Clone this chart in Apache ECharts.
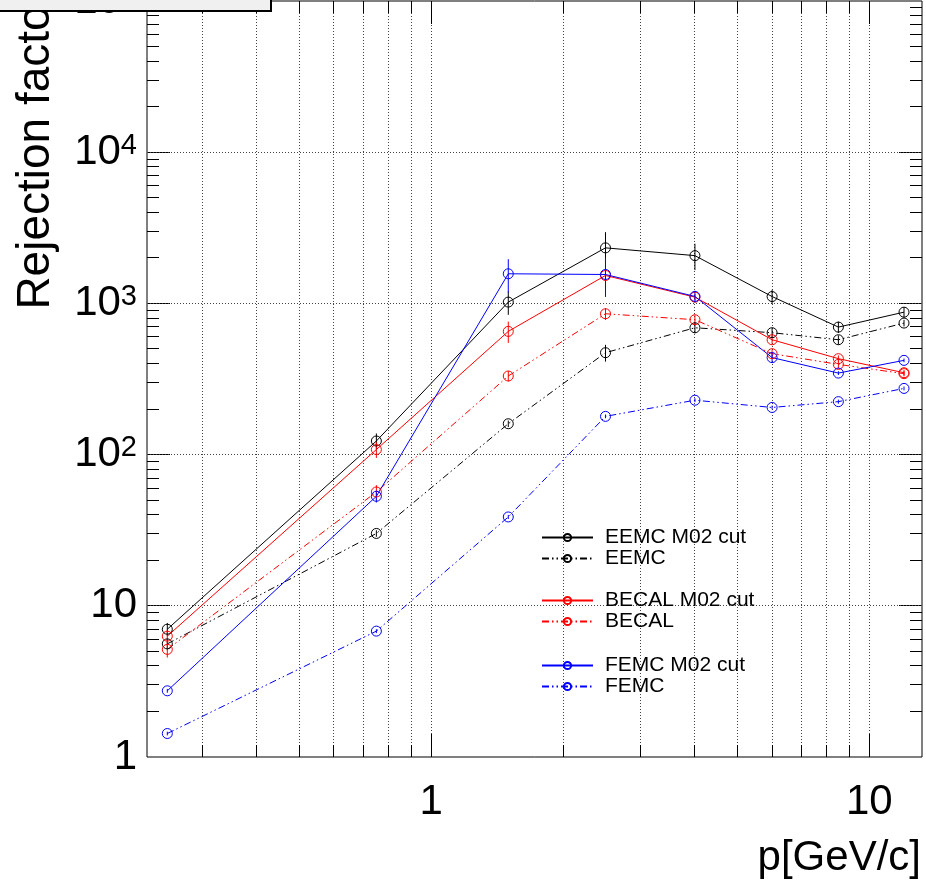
<!DOCTYPE html>
<html>
<head>
<meta charset="utf-8">
<script src="https://cdn.jsdelivr.net/npm/echarts/dist/echarts.min.js"></script>
<style>
  html, body { margin: 0; padding: 0; background: #fff; }
  #chart { width: 926px; height: 887px; }
</style>
</head>
<body>
<div id="chart"></div>
<script>
// ---- data ----
const pValues = [0.25, 0.75, 1.5, 2.5, 4, 6, 8.5, 12];

const eemcM02 = [7.0, 123, 1020, 2330, 2070, 1110, 697, 875];
const eemcM02Err = [0.7, 15, 180, 630, 410, 120, 60, 70];
const eemc = [5.6, 30.1, 160, 472, 690, 640, 575, 741];
const eemcErr = [0.45, 1.5, 8, 60, 55, 45, 40, 37];

const becalM02 = [6.3, 108, 653, 1530, 1100, 575, 431, 348];
const becalM02Err = [0.6, 13, 105, 80, 55, 35, 22, 14];
const becal = [5.15, 56.6, 331, 854, 780, 465, 395, 343];
const becalErr = [0.6, 6.2, 26, 77, 55, 28, 24, 14];

const femcM02 = [2.74, 53, 1570, 1553, 1112, 438, 346, 420];
const femcM02Err = [0.08, 4.8, 390, 450, 100, 35, 10, 12];
const femc = [1.43, 6.8, 38.7, 179, 229, 205, 224, 274];
const femcErr = [0.04, 0.2, 1.2, 5, 7, 6, 7, 8];

const seriesNames = ['EEMC M02 cut', 'EEMC', 'BECAL M02 cut', 'BECAL', 'FEMC M02 cut', 'FEMC'];

// axis ticks
const xTickVals = [0.3, 0.4, 0.5, 0.6, 0.7, 0.8, 0.9, 1, 2, 3, 4, 5, 6, 7, 8, 9, 10];
const xMajor = [1, 10];
const yDecades = [1, 10, 100, 1000, 10000, 100000];
const yMinorMult = [2, 3, 4, 5, 6, 7, 8, 9];

const xTitle = 'p[GeV/c]';
const yTitle = 'Rejection factor';

// ---- build ----
const FONT = "'Liberation Sans', Arial, Helvetica, sans-serif";
const DASH = [7, 3, 1.5, 3, 1.5, 3];

function pts(ys) { return pValues.map((x, i) => [x, ys[i]]); }
function errPts(ys, es) { return pValues.map((x, i) => [x, ys[i], es[i]]); }

const defs = [
  { name: seriesNames[0], y: eemcM02, e: eemcM02Err, color: '#000000', dashed: false },
  { name: seriesNames[1], y: eemc, e: eemcErr, color: '#000000', dashed: true },
  { name: seriesNames[2], y: becalM02, e: becalM02Err, color: '#ff0000', dashed: false },
  { name: seriesNames[3], y: becal, e: becalErr, color: '#ff0000', dashed: true },
  { name: seriesNames[4], y: femcM02, e: femcM02Err, color: '#0000ff', dashed: false },
  { name: seriesNames[5], y: femc, e: femcErr, color: '#0000ff', dashed: true }
];

const series = [];

const yTickVals = [];
yDecades.forEach(d => { if (d < 100000) yMinorMult.forEach(m => yTickVals.push(d * m)); });
yDecades.forEach(d => { if (d > 1 && d < 100000) yTickVals.push(d); });

function crisp(v) { return Math.round(v - 0.5) + 0.5; }

series.push({
  type: 'custom', name: 'xgrid', silent: true, z: 1,
  data: xTickVals.map(v => [v, 1]),
  encode: { x: 0, y: 1 },
  renderItem: function (params, api) {
    const cs = params.coordSys;
    const v = api.value(0);
    const px = crisp(api.coord([v, 1])[0]);
    const major = xMajor.indexOf(v) >= 0;
    const len = major ? 23 : 12;
    const top = cs.y, bot = cs.y + cs.height;
    return {
      type: 'group', children: [
        { type: 'line', shape: { x1: px, y1: top, x2: px, y2: bot }, style: { stroke: '#444', lineWidth: 1, lineDash: [1, 2] } },
        { type: 'line', shape: { x1: px, y1: bot, x2: px, y2: bot - len }, style: { stroke: '#000', lineWidth: 1 } },
        { type: 'line', shape: { x1: px, y1: top, x2: px, y2: top + len }, style: { stroke: '#000', lineWidth: 1 } }
      ]
    };
  }
});

series.push({
  type: 'custom', name: 'ygrid', silent: true, z: 1,
  data: yTickVals.map(v => [1, v]),
  encode: { x: 0, y: 1 },
  renderItem: function (params, api) {
    const cs = params.coordSys;
    const v = api.value(1);
    const py = crisp(api.coord([1, v])[1]);
    const major = yDecades.indexOf(v) >= 0;
    const len = major ? 23 : 12;
    const left = cs.x, right = cs.x + cs.width;
    const ch = [
      { type: 'line', shape: { x1: left, y1: py, x2: left + len, y2: py }, style: { stroke: '#000', lineWidth: 1 } },
      { type: 'line', shape: { x1: right, y1: py, x2: right - len, y2: py }, style: { stroke: '#000', lineWidth: 1 } }
    ];
    if (major) {
      ch.push({ type: 'line', shape: { x1: left, y1: py, x2: right, y2: py }, style: { stroke: '#444', lineWidth: 1, lineDash: [1, 2] } });
    }
    return { type: 'group', children: ch };
  }
});

defs.forEach(d => {
  series.push({
    type: 'custom', name: d.name + ' err', silent: true, z: 4,
    data: errPts(d.y, d.e),
    encode: { x: 0, y: 1 },
    renderItem: function (params, api) {
      const x = api.value(0), y = api.value(1), e = api.value(2);
      const p1 = api.coord([x, y + e]);
      const p2 = api.coord([x, Math.max(y - e, 1e-6)]);
      return { type: 'line', shape: { x1: p1[0], y1: p1[1], x2: p2[0], y2: p2[1] }, style: { stroke: d.color, lineWidth: 1 } };
    }
  });
  series.push({
    type: 'line', name: d.name, z: 5,
    data: pts(d.y),
    symbol: 'circle', symbolSize: 10, showSymbol: true,
    itemStyle: { color: 'rgba(255,255,255,0)', borderColor: d.color, borderWidth: 1 },
    lineStyle: { color: d.color, width: 1, type: d.dashed ? DASH : 'solid' },
    emphasis: { disabled: true }
  });
});

function legendBlock(names, top) {
  return {
    data: names, orient: 'vertical', left: 541, top: top, padding: 0,
    itemWidth: 51, itemHeight: 9, itemGap: 0, selectedMode: false,
    textStyle: { fontSize: 21, lineHeight: 21, color: '#000', fontFamily: FONT, padding: [0, 0, 0, 7] }
  };
}

function yLabel(v) {
  const e = Math.round(Math.log10(v));
  if (Math.abs(Math.pow(10, e) - v) > 1e-6 * v) return '';
  if (e === 0) return '{b|1}';
  if (e === 1) return '{b|10}';
  return '{b|10}{s|' + e + '}';
}
function xLabel(v) {
  const e = Math.round(Math.log10(v));
  if (Math.abs(Math.pow(10, e) - v) > 1e-6 * v) return '';
  return String(Math.pow(10, e));
}

const option = {
  animation: false,
  backgroundColor: '#ffffff',
  grid: { left: 147, right: 4, top: 1, bottom: 130, show: true, borderColor: '#000', borderWidth: 1, backgroundColor: 'transparent', containLabel: false, outerBoundsMode: 'none' },
  xAxis: {
    type: 'log', logBase: 10, min: 0.2247, max: 13.19,
    axisLine: { show: false }, axisTick: { show: false }, splitLine: { show: false },
    axisLabel: { formatter: xLabel, fontSize: 42, color: '#000', fontFamily: FONT, margin: 24, showMinLabel: false, showMaxLabel: false }
  },
  yAxis: {
    type: 'log', logBase: 10, min: 1, max: 100000,
    axisLine: { show: false }, axisTick: { show: false }, splitLine: { show: false },
    axisLabel: {
      formatter: yLabel, color: '#000', margin: 10,
      rich: {
        b: { fontSize: 42, fontFamily: FONT, color: '#000' },
        s: { fontSize: 29, fontFamily: FONT, color: '#000', verticalAlign: 'top' }
      }
    }
  },
  legend: [
    legendBlock([seriesNames[0], seriesNames[1]], 527),
    legendBlock([seriesNames[2], seriesNames[3]], 590),
    legendBlock([seriesNames[4], seriesNames[5]], 655)
  ],
  series: series,
  graphic: [
    { type: 'text', x: 36, y: -10, rotation: Math.PI / 2, z: 50,
      style: { text: yTitle, font: '46px ' + FONT, fill: '#000', textAlign: 'right', textVerticalAlign: 'middle' } },
    { type: 'text', x: 921, y: 858, z: 50,
      style: { text: xTitle, font: '42px ' + FONT, fill: '#000', textAlign: 'right', textVerticalAlign: 'middle' } },
    { type: 'rect', z: 60, shape: { x: -2, y: -30, width: 273, height: 41 },
      style: { fill: '#f0f0f0', stroke: '#000', lineWidth: 2 } }
  ]
};

const chart = echarts.init(document.getElementById('chart'), null, { renderer: 'canvas' });
chart.setOption(option);
</script>
</body>
</html>
